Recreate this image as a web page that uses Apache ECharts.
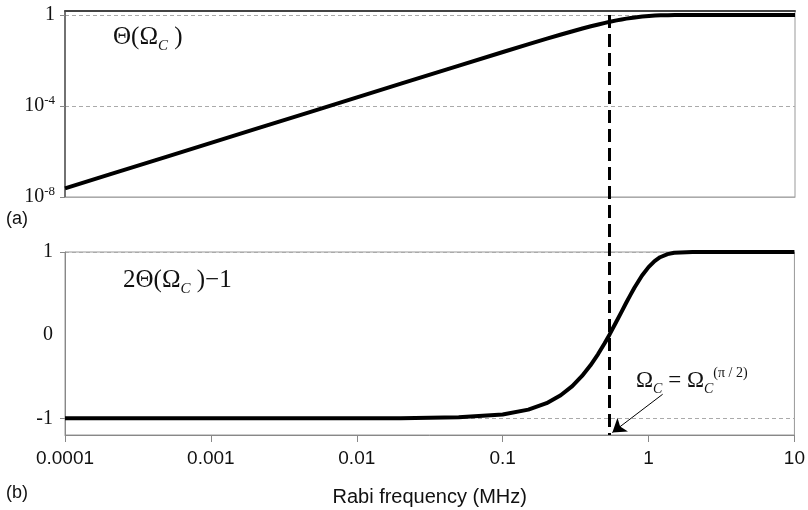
<!DOCTYPE html>
<html>
<head>
<meta charset="utf-8">
<script src="https://cdn.jsdelivr.net/npm/echarts@6/dist/echarts.min.js"></script>
<style>
  html, body { margin: 0; padding: 0; background: #fff; }
  #chart { width: 808px; height: 510px; }
</style>
</head>
<body>
<div id="chart"></div>
<script>
  // Rabi frequency (MHz), shared by both panels
  const freq = [0.0001, 0.0002, 0.0005, 0.001, 0.002, 0.005, 0.01, 0.02, 0.05,
    0.1, 0.15, 0.2, 0.25, 0.3, 0.35, 0.4, 0.45, 0.5,
    0.54, 0.6, 0.65, 0.7, 0.75, 0.8, 0.9, 1.0, 1.1, 1.2, 1.35, 1.5, 2, 3, 5, 10];
  // (a) Theta(Omega_C), log scale
  const theta = [2.4e-8, 9.6e-8, 6.0e-7, 2.4e-6, 9.6e-6, 6.0e-5, 2.4e-4, 9.6e-4, 0.006,
    0.0237, 0.0526, 0.0915, 0.139, 0.194, 0.255, 0.319, 0.385, 0.451,
    0.503, 0.579, 0.637, 0.692, 0.741, 0.785, 0.857, 0.909, 0.945, 0.968, 0.987, 0.995, 1, 1, 1, 1];
  // (b) 2Theta(Omega_C) - 1
  const twoThetaMinusOne = [-1, -1, -1, -1, -1, -1, -1, -0.998, -0.988,
    -0.953, -0.895, -0.817, -0.722, -0.612, -0.490, -0.362, -0.230, -0.098,
    0.006, 0.158, 0.274, 0.384, 0.482, 0.570, 0.714, 0.818, 0.890, 0.937, 0.974, 0.991, 1, 1, 1, 1];

  const xTickLabels = ['0.0001', '0.001', '0.01', '0.1', '1', '10'];
  const topTickExps = ['-8', '-4', ''];
  const bottomTickValues = [-1, 0, 1];
  const omegaHalf = 0.54;            // Omega_C = Omega_C^(pi/2)
  const arrowFrom = [1.25, -0.71];
  const arrowTo = [0.565, -1.17];

  const serif = '"Liberation Serif", "Times New Roman", serif';
  const sans = '"Liberation Sans", Arial, sans-serif';

  const chart = echarts.init(document.getElementById('chart'));

  const option = {
    animation: false,
    backgroundColor: '#fff',
    grid: [
      { left: 65, right: 13, top: 11, bottom: 313, show: true, borderColor: '#999', borderWidth: 1 },
      { left: 65, right: 13, top: 252, bottom: 75, show: true, borderColor: '#999', borderWidth: 1 }
    ],
    xAxis: [
      {
        type: 'log', gridIndex: 0, min: 0.0001, max: 10,
        axisLine: { onZero: false, lineStyle: { color: '#aaa' } },
        axisTick: { show: false }, axisLabel: { show: false }, splitLine: { show: false }
      },
      {
        type: 'log', gridIndex: 1, min: 0.0001, max: 10,
        name: 'Rabi frequency (MHz)', nameLocation: 'middle', nameGap: 52,
        nameTextStyle: { fontFamily: sans, fontSize: 20, color: '#111' },
        axisLine: { onZero: false, lineStyle: { color: '#888' } },
        axisTick: { show: true, inside: false, length: 7, lineStyle: { color: '#888' } },
        axisLabel: {
          fontFamily: sans, fontSize: 19, color: '#111', margin: 14,
          formatter: (v) => xTickLabels[Math.round(Math.log10(v)) + 4]
        },
        splitLine: { show: false }
      },
      {
        type: 'log', gridIndex: 0, min: 0.0001, max: 10, position: 'top',
        axisLine: { onZero: false, lineStyle: { color: '#444', width: 2 } },
        axisTick: { show: false }, axisLabel: { show: false }, splitLine: { show: false }
      }
    ],
    yAxis: [
      {
        type: 'log', gridIndex: 0, logBase: 10000, min: 1e-8, max: 1.5,
        axisLine: { show: true, lineStyle: { color: '#555', width: 1.5 } },
        axisTick: { show: true, length: 5, lineStyle: { color: '#888' } },
        axisLabel: {
          margin: 10, color: '#111',
          formatter: (v) => {
            const e = topTickExps[Math.round(Math.log10(v) / 4) + 2];
            return e ? '{b|10}{s|' + e + '}' : '{b|1}';
          },
          rich: {
            b: { fontFamily: serif, fontSize: 20, color: '#111' },
            s: { fontFamily: serif, fontSize: 13, color: '#111', padding: [0, 0, 10, 0] }
          }
        },
        splitLine: { show: true, lineStyle: { color: '#aaa', type: [4, 3] } }
      },
      {
        type: 'value', gridIndex: 1, min: -1.2, max: 1,
        axisLine: { show: true, lineStyle: { color: '#888' } },
        axisTick: { show: true, length: 5, customValues: [-1, 1], lineStyle: { color: '#888' } },
        axisLabel: {
          customValues: bottomTickValues, margin: 12,
          fontFamily: serif, fontSize: 20, color: '#111'
        },
        splitLine: { show: true, lineStyle: { color: '#aaa', type: [4, 3] } }
      }
    ],
    series: [
      {
        type: 'line', xAxisIndex: 0, yAxisIndex: 0,
        data: freq.map((f, i) => [f, theta[i]]),
        showSymbol: false,
        lineStyle: { color: '#000', width: 4, join: 'round' }
      },
      {
        type: 'line', xAxisIndex: 1, yAxisIndex: 1,
        data: freq.map((f, i) => [f, twoThetaMinusOne[i]]),
        showSymbol: false,
        lineStyle: { color: '#000', width: 4, join: 'round' },
        markLine: {
          silent: true, animation: false,
          symbol: ['none', 'arrow'], symbolSize: 13,
          label: { show: false },
          lineStyle: { color: '#000', width: 1, type: 'solid' },
          data: [[{ coord: arrowFrom }, { coord: arrowTo }]]
        }
      }
    ],
    graphic: [
      {
        type: 'text', left: 113, top: 25,
        style: {
          text: '{m|Θ(Ω}{c|C}{m| )}',
          rich: {
            m: { fontFamily: serif, fontSize: 25, fill: '#111' },
            c: { fontFamily: serif, fontSize: 15, fontStyle: 'italic', fill: '#111', padding: [18, 0, 0, 0] }
          }
        }
      },
      {
        type: 'text', left: 123, top: 268,
        style: {
          text: '{m|2Θ(Ω}{c|C}{m| )−1}',
          rich: {
            m: { fontFamily: serif, fontSize: 25, fill: '#111' },
            c: { fontFamily: serif, fontSize: 15, fontStyle: 'italic', fill: '#111', padding: [18, 0, 0, 0] }
          }
        }
      },
      {
        type: 'text', left: 636, top: 366,
        style: {
          text: '{m|Ω}{c|C}{m| = Ω}{c|C}{p|(π / 2)}',
          rich: {
            m: { fontFamily: serif, fontSize: 23, fill: '#111' },
            c: { fontFamily: serif, fontSize: 14, fontStyle: 'italic', fill: '#111', padding: [17, 0, 0, 0] },
            p: { fontFamily: serif, fontSize: 14, fill: '#111', padding: [0, 0, 15, 0] }
          }
        }
      },
      {
        type: 'text', left: 6, top: 210,
        style: { text: '(a)', font: '18px ' + sans, fill: '#111' }
      },
      {
        type: 'text', left: 6, top: 484,
        style: { text: '(b)', font: '18px ' + sans, fill: '#111' }
      }
    ]
  };

  chart.setOption(option);

  // dashed vertical line at Omega_C^(pi/2), running through both panels
  const px = chart.convertToPixel({ xAxisIndex: 1 }, omegaHalf);
  const yTop = chart.convertToPixel({ yAxisIndex: 0 }, 1);
  const yBot = chart.convertToPixel({ yAxisIndex: 1 }, -1.2);
  chart.setOption({
    graphic: option.graphic.concat([{
      type: 'line', z: 10,
      shape: { x1: px, y1: yTop, x2: px, y2: yBot },
      style: { stroke: '#000', lineWidth: 3, lineDash: [13, 6] }
    }])
  });
</script>
</body>
</html>
